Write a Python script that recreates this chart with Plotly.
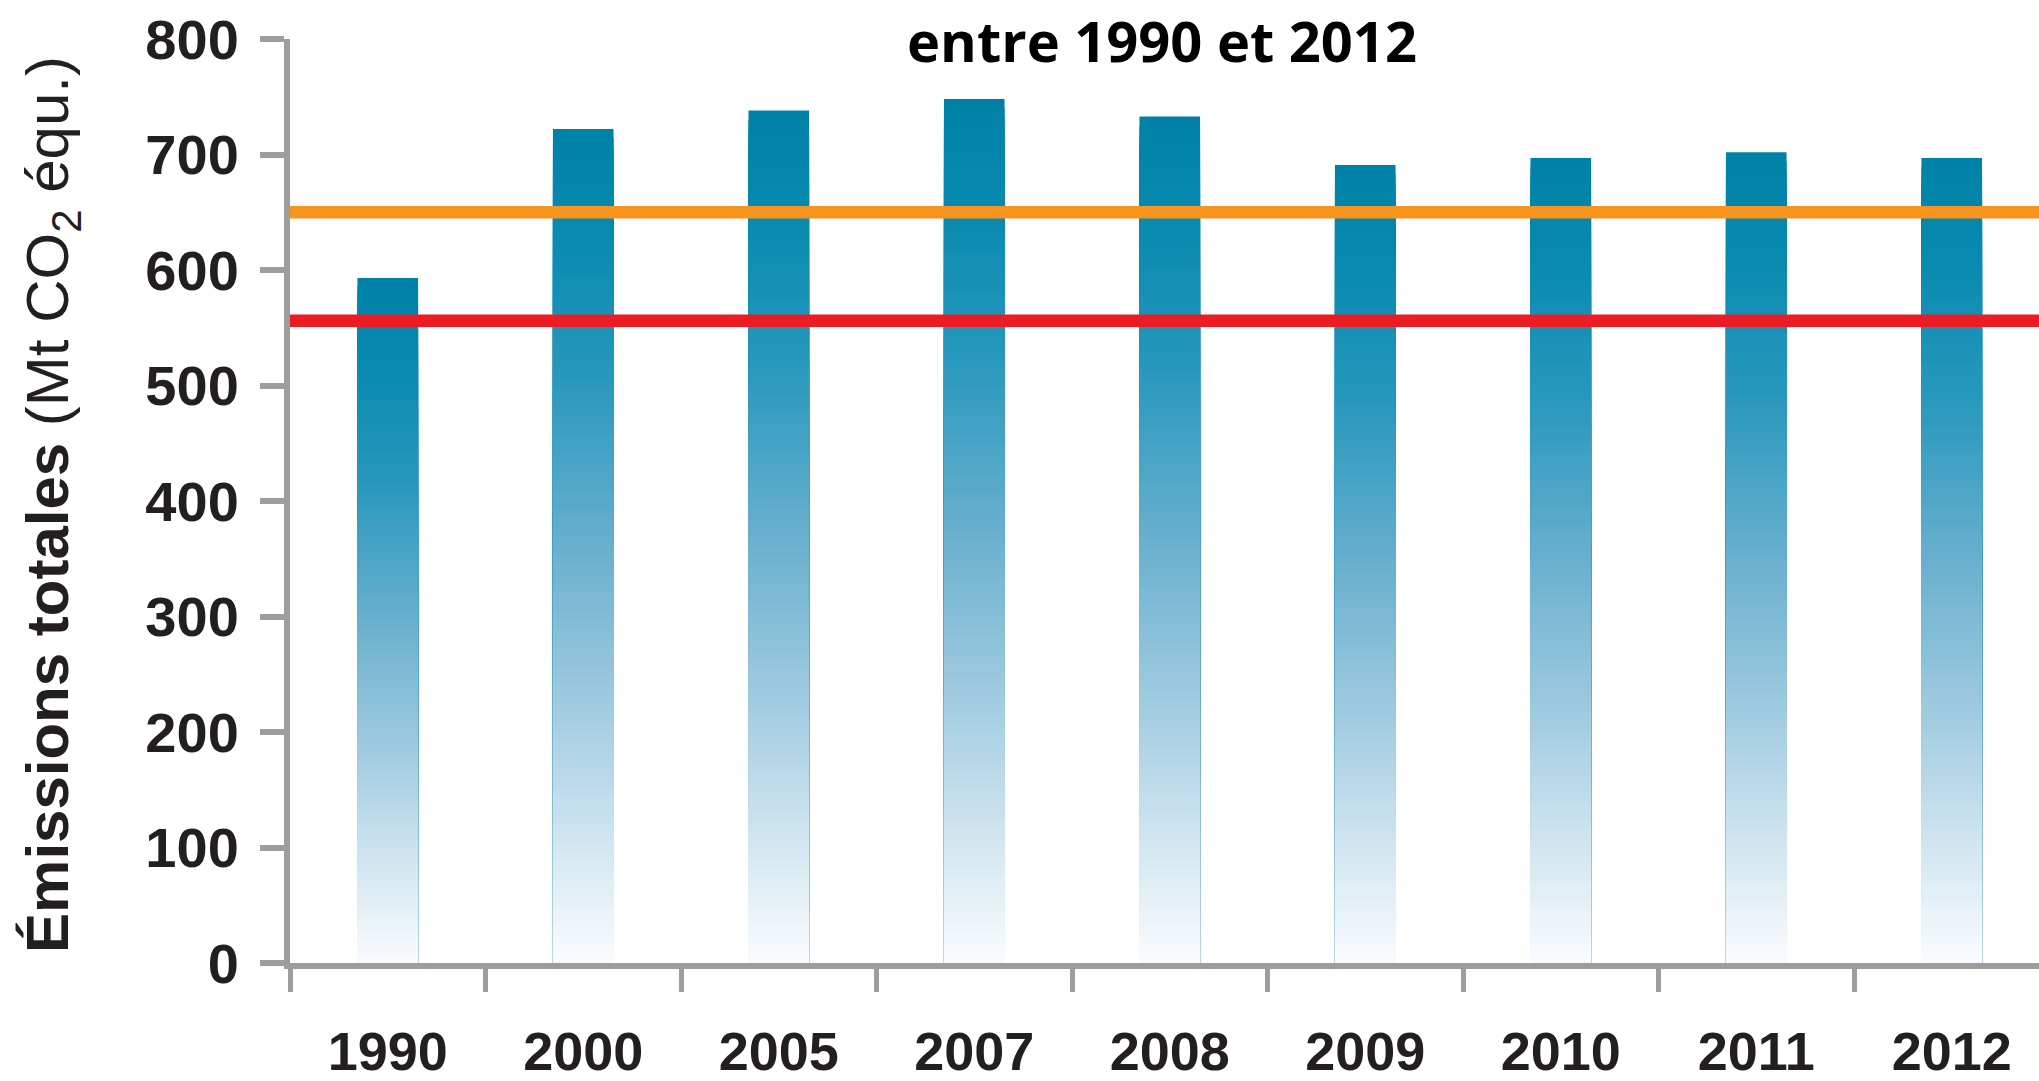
import plotly.graph_objects as go

# Total greenhouse gas emissions (Mt CO2 eq.)
years = ["1990", "2000", "2005", "2007", "2008", "2009", "2010", "2011", "2012"]
emissions = [593, 722, 738, 748, 733, 691, 697, 702, 697]
y_ticks = [0, 100, 200, 300, 400, 500, 600, 700, 800]
orange_level = 650
red_level = 556

title_text = "entre 1990 et 2012"
y_title_bold = "Émissions totales"
y_title_unit = "(Mt CO<sub>2</sub> équ.)"

# Bar gradient: position measured from the top of each bar -> colour
grad_pos = [0.0, 0.12, 0.3, 0.5, 0.7, 0.85, 1.0]
grad_rgb = [(0, 129, 168), (8, 137, 176), (40, 152, 189), (105, 176, 206),
            (163, 204, 225), (208, 229, 240), (250, 252, 254)]

W, H = 2039, 1081
L, R, T, B = 290, 0, 39, 114
GREY = "#9d9d9d"
INK = "#231f20"


def grad_colour(f):
    for i in range(len(grad_pos) - 1):
        a, b = grad_pos[i], grad_pos[i + 1]
        if f <= b:
            t = (f - a) / (b - a)
            c0, c1 = grad_rgb[i], grad_rgb[i + 1]
            return "rgb(%d,%d,%d)" % tuple(round(c0[j] + (c1[j] - c0[j]) * t) for j in range(3))
    return "rgb(%d,%d,%d)" % grad_rgb[-1]


fig = go.Figure()

# Overlaid bars of decreasing height build a vertical fade inside each bar
n_layers = 90
for k in range(n_layers):
    frac = (n_layers - k) / n_layers
    fig.add_trace(go.Bar(
        x=years,
        y=[v * frac for v in emissions],
        marker=dict(color=grad_colour((k + 0.5) / n_layers), line=dict(width=0)),
        width=0.31,
        hoverinfo="skip",
        showlegend=False,
    ))

# Reference levels
for level, colour in [(orange_level, "#f7941d"), (red_level, "#ed1c24")]:
    fig.add_shape(type="line", xref="paper", x0=0, x1=1, yref="y", y0=level, y1=level,
                  line=dict(color=colour, width=12.5), layer="above")

plot_w = W - L - R
cat_px = 195.5
x_right = -0.5 + plot_w / cat_px

fig.update_layout(
    width=W, height=H,
    margin=dict(l=L, r=R, t=T, b=B, pad=0),
    paper_bgcolor="white", plot_bgcolor="white",
    barmode="overlay",
    bargap=0.69,
    font=dict(family="Liberation Sans, Arial, sans-serif", color=INK),
    xaxis=dict(
        type="category",
        categoryorder="array", categoryarray=years,
        range=[-0.5, x_right],
        showline=True, linecolor=GREY, linewidth=6,
        ticks="outside", tickson="boundaries", ticklen=23, tickwidth=5, tickcolor=GREY,
        tickfont=dict(family="Liberation Sans, Arial, sans-serif", size=54, color=INK, weight="bold"),
        ticklabelstandoff=36,
        showgrid=False, zeroline=False, fixedrange=True,
    ),
    yaxis=dict(
        range=[0, 800],
        tickvals=y_ticks,
        showline=True, linecolor=GREY, linewidth=6,
        ticks="outside", ticklen=24, tickwidth=6, tickcolor=GREY,
        tickfont=dict(family="Liberation Sans, Arial, sans-serif", size=56, color=INK, weight="bold"),
        ticklabelstandoff=10,
        showgrid=False, zeroline=False, fixedrange=True,
    ),
)

plot_h = H - T - B
fig.add_annotation(
    text="<b>%s</b> %s" % (y_title_bold, y_title_unit),
    textangle=-90,
    xref="paper", yref="paper",
    x=(52 - L) / plot_w, y=(H - B - 507) / plot_h,
    xanchor="center", yanchor="middle",
    showarrow=False,
    font=dict(family="Liberation Sans, Arial, sans-serif", size=60, color=INK),
)

fig.add_annotation(
    text="<b>%s</b>" % title_text,
    xref="paper", yref="paper",
    x=(1162 - L) / plot_w, y=(H - B - 40) / plot_h,
    xanchor="center", yanchor="middle",
    showarrow=False,
    font=dict(family="Open Sans, sans-serif", size=56, color="#000000"),
)

fig.write_html("out.html", config=dict(displayModeBar=False))
